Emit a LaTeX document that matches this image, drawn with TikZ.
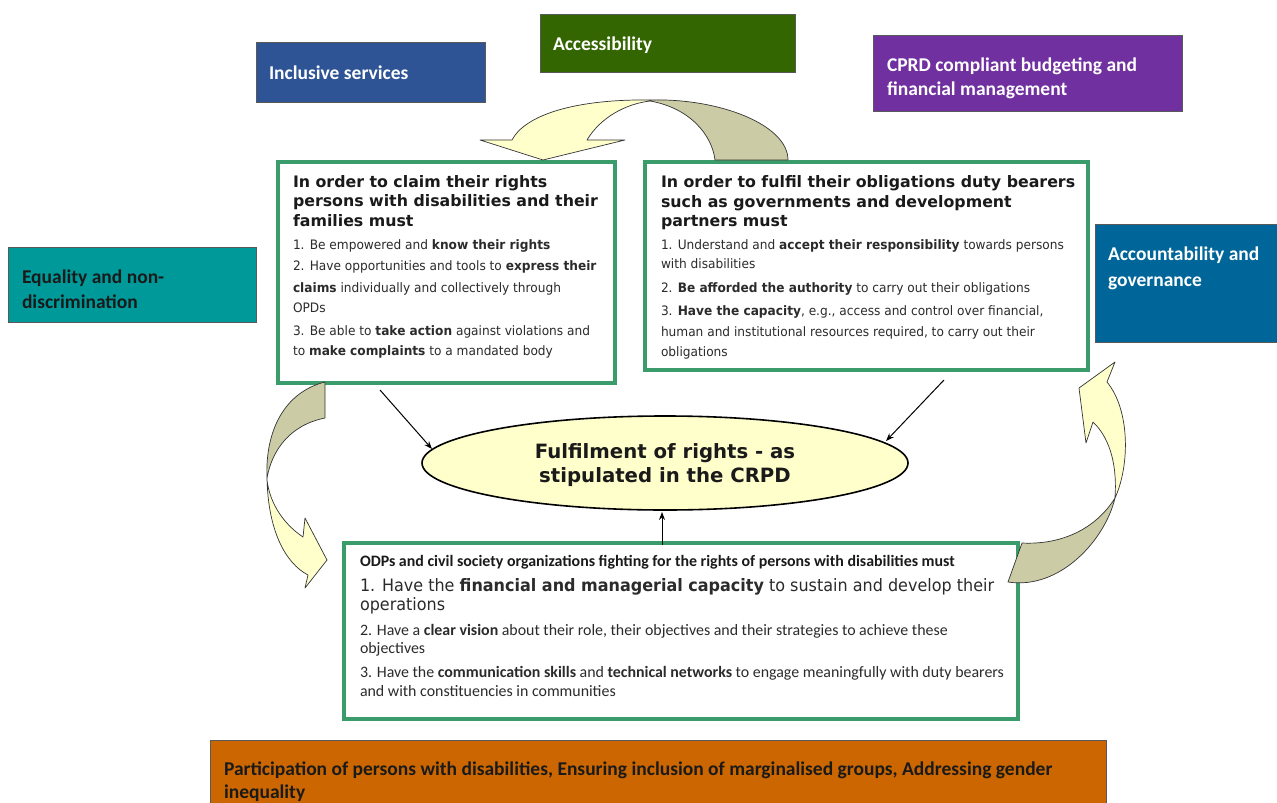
\documentclass[tikz,border=0pt]{standalone}
\usepackage{fontspec}
\usetikzlibrary{arrows.meta,shapes.geometric}
\setmainfont{DejaVu Sans}
\newfontfamily\headfont{DejaVu Sans}
\newfontfamily\bodyfont{DejaVu Sans}[FakeStretch=0.936]
\newfontfamily\calfont{Carlito}
\definecolor{gframe}{HTML}{3A9B6B}
\definecolor{ylw}{HTML}{FFFFCC}
\definecolor{khaki}{HTML}{CBCBA5}
\definecolor{cblue}{HTML}{2E5496}
\definecolor{cgreen}{HTML}{336600}
\definecolor{cpurple}{HTML}{7030A0}
\definecolor{cteal}{HTML}{009999}
\definecolor{cacc}{HTML}{006699}
\definecolor{corange}{HTML}{CC6600}
\definecolor{inktext}{HTML}{1A1A1A}
\definecolor{bodytext}{HTML}{2B2B2B}
\tikzset{
  x=1pt, y=-1pt,
  gbox/.style={draw=gframe, line width=4pt, fill=white, rectangle, inner sep=0pt},
  cbox/.style={draw=black!65, line width=0.8pt, rectangle, inner sep=0pt},
  ln/.style={anchor=base west, inner sep=0pt, outer sep=0pt},
  head/.style={ln, font=\headfont\bfseries\fontsize{15.8}{15.8}\selectfont, text=inktext},
  body/.style={ln, font=\bodyfont\fontsize{13}{13}\selectfont, text=bodytext},
  clab/.style={ln, font=\calfont\bfseries\fontsize{19.5}{19.5}\selectfont, text=white},
  csmall/.style={ln, font=\calfont\fontsize{15.9}{15.9}\selectfont, text=bodytext},
  conn/.style={line width=1pt, -{Stealth[length=8pt,width=6pt]}},
  ribbon/.style={draw=black!80, line width=0.7pt, line join=round},
}
\begin{document}
\begin{tikzpicture}
\useasboundingbox (0,0) rectangle (1277,803);

% coloured theme boxes
\node[cbox, fill=cblue, minimum width=229pt, minimum height=60pt] (bInc) at (370.5,72) {};
\node[clab] (tInc) at (269,79) {Inclusive services};
\node[cbox, fill=cgreen, minimum width=255pt, minimum height=58pt] (bAcc) at (667.5,43) {};
\node[clab] (tAcc) at (553,50) {Accessibility};
\node[cbox, fill=cpurple, minimum width=309pt, minimum height=76pt] (bBud) at (1027.5,73) {};
\node[clab] (tBud1) at (887,71) {CPRD compliant budgeting and};
\node[clab] (tBud2) at (887,95) {financial management};
\node[cbox, fill=cteal, minimum width=248pt, minimum height=75pt] (bEq) at (132,284.5) {};
\node[clab, text=inktext] (tEq1) at (22,283) {Equality and non-};
\node[clab, text=inktext] (tEq2) at (22,308) {discrimination};
\node[cbox, fill=cacc, minimum width=190pt, minimum height=118pt] (bGov) at (1190,283) {};
\node[clab] (tGov1) at (1108,260) {Accountability and};
\node[clab] (tGov2) at (1108,286) {governance};
\node[cbox, fill=corange, minimum width=896pt, minimum height=80pt] (bPar) at (658,780) {};
\node[clab, text=inktext] (tPar1) at (224,775) {Participation of persons with disabilities, Ensuring inclusion of marginalised groups, Addressing gender};
\node[clab, text=inktext] (tPar2) at (224,798) {inequality};

% left box: rights holders
\node[gbox, minimum width=337pt, minimum height=221pt] (lbox) at (446.5,272.5) {};
\node[head] (lh1) at (293,187) {In order to claim their rights};
\node[head] (lh2) at (293,206) {persons with disabilities and their};
\node[head] (lh3) at (293,226) {families must};
\node[body] (l1) at (293,249) {1. Be empowered and \textbf{know their rights}};
\node[body] (l2a) at (293,270) {2. Have opportunities and tools to \textbf{express their}};
\node[body] (l2b) at (293,292) {\textbf{claims} individually and collectively through};
\node[body] (l2c) at (293,312) {OPDs};
\node[body] (l3a) at (293,335) {3. Be able to \textbf{take action} against violations and};
\node[body] (l3b) at (293,355) {to \textbf{make complaints} to a mandated body};

% right box: duty bearers
\node[gbox, minimum width=443pt, minimum height=208pt] (rbox) at (866.5,266) {};
\node[head] (rh1) at (661,187) {In order to fulfil their obligations duty bearers};
\node[head] (rh2) at (661,207) {such as governments and development};
\node[head] (rh3) at (661,226) {partners must};
\node[body] (r1a) at (661,249) {1. Understand and \textbf{accept their responsibility} towards persons};
\node[body] (r1b) at (661,268) {with disabilities};
\node[body] (r2) at (661,292) {2. \textbf{Be afforded the authority} to carry out their obligations};
\node[body] (r3a) at (661,315) {3. \textbf{Have the capacity}, e.g., access and control over financial,};
\node[body] (r3b) at (661,336) {human and institutional resources required, to carry out their};
\node[body] (r3c) at (661,356) {obligations};

% bottom box: civil society
\node[gbox, minimum width=674pt, minimum height=176pt] (bbox) at (681,631) {};
\node[ln, font=\calfont\bfseries\fontsize{15.9}{15.9}\selectfont, text=inktext] (b0) at (360,566) {ODPs and civil society organizations fighting for the rights of persons with disabilities must};
\node[body, font=\bodyfont\fontsize{17.1}{17.1}\selectfont] (b1a) at (360,591) {1. Have the \textbf{financial and managerial capacity} to sustain and develop their};
\node[body, font=\bodyfont\fontsize{17.1}{17.1}\selectfont] (b1b) at (360,610) {operations};
\node[csmall] (b2a) at (360,635) {2. Have a \textbf{clear vision} about their role, their objectives and their strategies to achieve these};
\node[csmall] (b2b) at (360,653) {objectives};
\node[csmall] (b3a) at (360,677) {3. Have the \textbf{communication skills} and \textbf{technical networks} to engage meaningfully with duty bearers};
\node[csmall] (b3b) at (360,696) {and with constituencies in communities};

% central goal
\node[ellipse, draw=black, line width=1.6pt, fill=ylw, minimum width=486pt, minimum height=94pt, inner sep=0pt] (goal) at (665,463) {};
\node[anchor=base, inner sep=0pt, font=\headfont\bfseries\fontsize{19.7}{19.7}\selectfont, text=inktext] (g1) at (665,458) {Fulfilment of rights - as};
\node[anchor=base, inner sep=0pt, font=\headfont\bfseries\fontsize{19.7}{19.7}\selectfont, text=inktext] (g2) at (665,482) {stipulated in the CRPD};

% connectors into the goal
\coordinate (cL0) at (380,390);
\coordinate (cL1) at (432,449);
\coordinate (cR0) at (944,380);
\coordinate (cR1) at (886,441);
\coordinate (cB0) at (662,545);
\coordinate (cB1) at (662,512);
\draw[conn] (cL0) -- (cL1);
\draw[conn] (cR0) -- (cR1);
\draw[conn] (cB0) -- (cB1);

% cycle ribbons: top
\draw[ribbon, fill=khaki] (650,100) .. controls (720,98) and (788,125) .. (788,160) -- (715,160) .. controls (712,135) and (690,108) .. (650,101) -- cycle;
\draw[ribbon, fill=ylw] (650,100) .. controls (575,99) and (525,115) .. (512,140) -- (480,140) -- (543,160) -- (625,140) -- (587,140) .. controls (600,118) and (625,104) .. (650,101) -- cycle;
% left
\draw[ribbon, fill=khaki] (325,382) .. controls (285,392) and (265,430) .. (267,478) .. controls (272,450) and (290,425) .. (325,418) -- cycle;
\draw[ribbon, fill=ylw] (267,478) .. controls (268,530) and (285,563) .. (308,575) -- (305,588) -- (327,560) -- (305,518) -- (303,537) .. controls (285,525) and (270,505) .. (267,480) -- cycle;
% right
\draw[ribbon, fill=khaki] (1008,582) .. controls (1060,590) and (1105,540) .. (1115,498) .. controls (1095,530) and (1060,545) .. (1022,543) -- cycle;
\draw[ribbon, fill=ylw] (1115,498) .. controls (1130,465) and (1130,410) .. (1107,382) -- (1115,362) -- (1079,388) -- (1086,443) -- (1093,422) .. controls (1112,440) and (1117,470) .. (1115,497) -- cycle;
\end{tikzpicture}
\end{document}
